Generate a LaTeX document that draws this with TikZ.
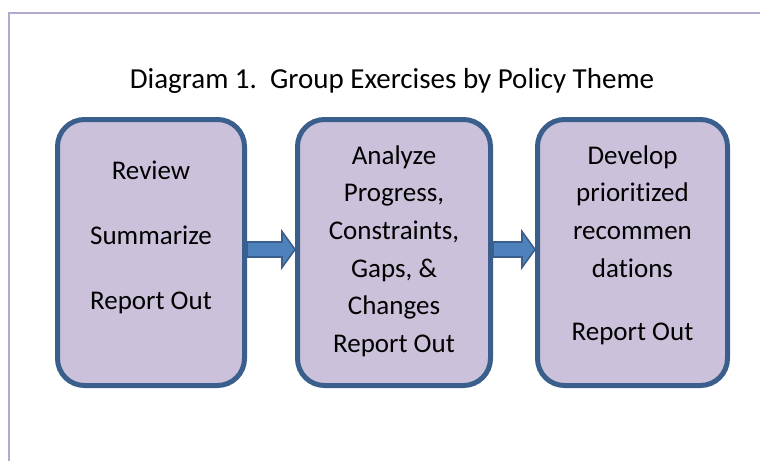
\documentclass[tikz,border=0pt]{standalone}
\usepackage{fontspec}
\setmainfont{Carlito}[Ligatures=NoCommon]
\usetikzlibrary{positioning}
\definecolor{boxfill}{HTML}{CCC1DA}
\definecolor{boxline}{HTML}{3A5F8C}
\definecolor{arrowfill}{HTML}{4F81BD}
\definecolor{framecol}{HTML}{B7A8D1}
\tikzset{
    stepbox/.style={
           rectangle,
           rounded corners=27pt,
           draw=boxline, fill=boxfill,
           line width=5pt,
           minimum height=266pt,
           inner sep=0pt,
           },
    steptext/.style={
           align=center,
           inner sep=0pt,
           font=\fontsize{27}{37.6}\selectfont,
           },
    flowarrow/.style={
           draw=boxline, fill=arrowfill,
           line width=1.6pt,
           line join=miter,
           },
}

\begin{document}
\begin{tikzpicture}[x=1pt,y=-1pt]
 \useasboundingbox (0,0) rectangle (760,461);

 % page frame, cut off by the right and bottom edges
 \draw[framecol, line width=2pt] (8.5,461) -- (8.5,13) -- (760,13);

 % title
 \node[anchor=base, font=\fontsize{29}{33}\selectfont] (title) at (392,88)
  {Diagram 1.\ \ Group Exercises by Policy Theme};

 % the three steps
 \node[stepbox, minimum width=187pt] (review) at (151,252.5) {};
 \node[stepbox, minimum width=193pt, right=48pt of review] (analyze) {};
 \node[stepbox, minimum width=190pt, right=42pt of analyze] (develop) {};

 % texts inside the boxes
 \node[steptext, yshift=15pt] (review text) at (review.center)
  {Review\\[27.4pt]Summarize\\[27.4pt]Report Out};
 \node[steptext, yshift=1.5pt] (analyze text) at (analyze.center)
  {Analyze\\Progress,\\Constraints,\\Gaps, \&\\Changes\\Report Out};
 \node[steptext, yshift=7.5pt] (develop text) at (develop.center)
  {Develop\\prioritized\\recommen\\dations\\[25.4pt]Report Out};

 % block arrows from box to box
 \path[flowarrow] ([yshift=10.5pt]review.east)
  -- ([xshift=-13pt,yshift=10.5pt]analyze.west)
  -- ([xshift=-13pt,yshift=21pt]analyze.west)
  -- ([yshift=3pt]analyze.west)
  -- ([xshift=-13pt,yshift=-15pt]analyze.west)
  -- ([xshift=-13pt,yshift=-4.5pt]analyze.west)
  -- ([yshift=-4.5pt]review.east) -- cycle;
 \path[flowarrow] ([yshift=10.5pt]analyze.east)
  -- ([xshift=-13pt,yshift=10.5pt]develop.west)
  -- ([xshift=-13pt,yshift=21pt]develop.west)
  -- ([yshift=3pt]develop.west)
  -- ([xshift=-13pt,yshift=-15pt]develop.west)
  -- ([xshift=-13pt,yshift=-4.5pt]develop.west)
  -- ([yshift=-4.5pt]analyze.east) -- cycle;

\end{tikzpicture}
\end{document}
